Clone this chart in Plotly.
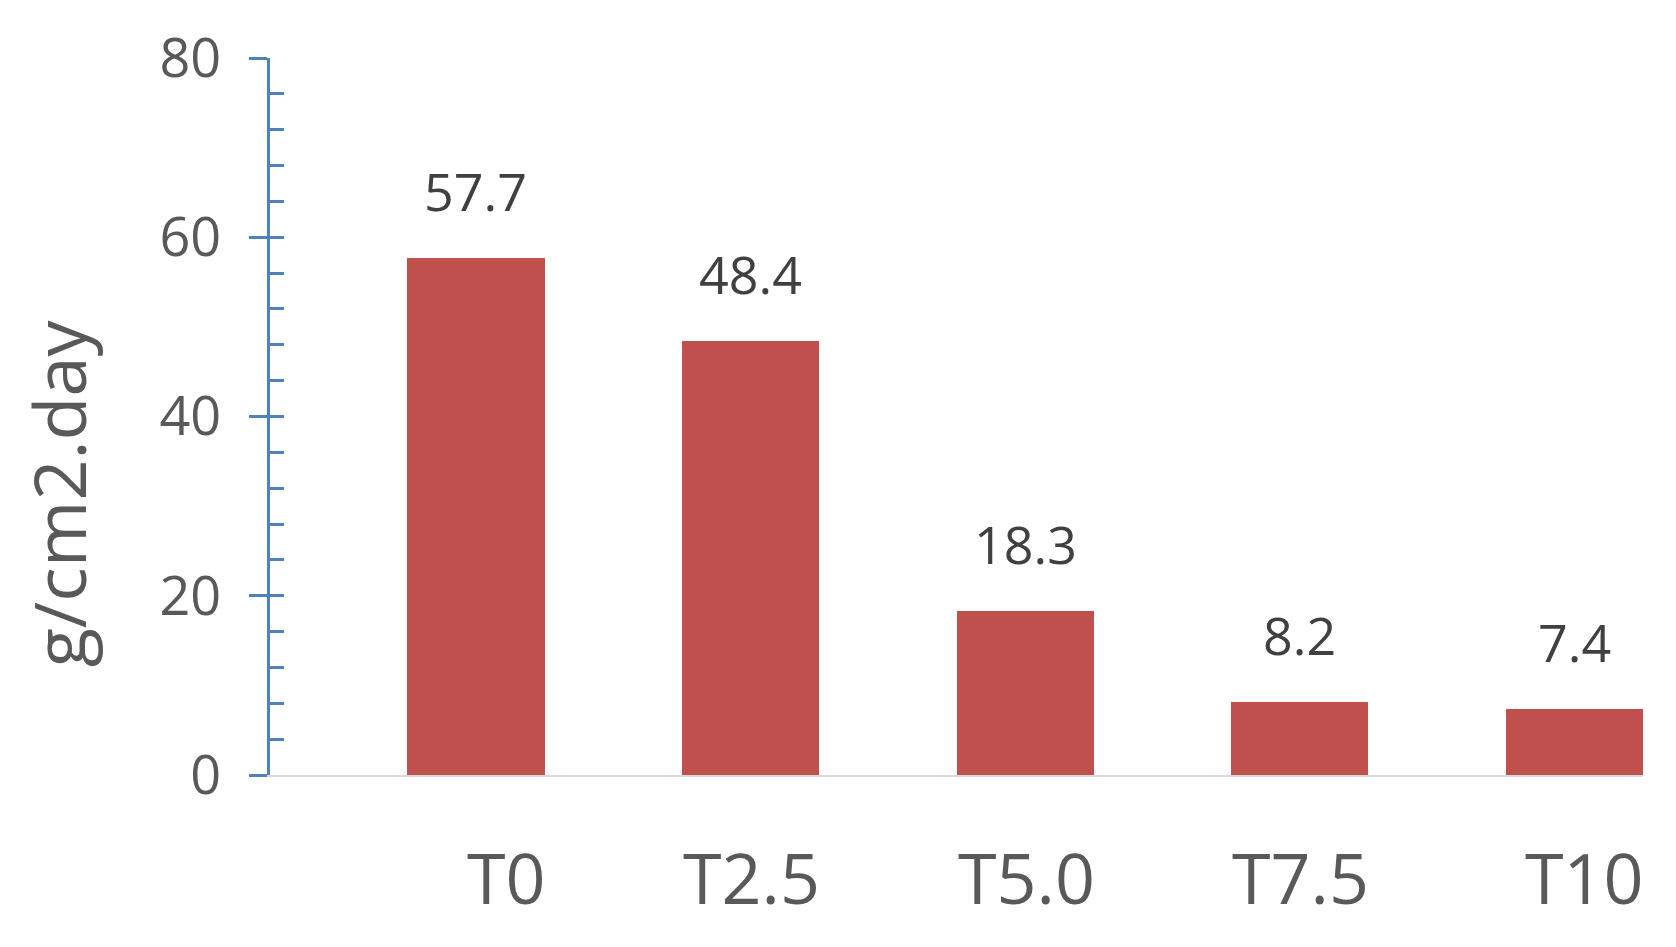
import plotly.graph_objects as go

categories = ["T0", "T2.5", "T5.0", "T7.5", "T10"]
values = [57.7, 48.4, 18.3, 8.2, 7.4]
value_labels = ["57.7", "48.4", "18.3", "8.2", "7.4"]
y_title = "g/cm2.day"

BAR = "#C0504D"
AXIS_BLUE = "#4F81BD"
TXT = "#595959"
FONT = "Open Sans"

fig = go.Figure()
fig.add_trace(go.Bar(
    x=categories, y=values, marker=dict(color=BAR, line=dict(width=0)),
    width=0.5, offset=0, showlegend=False, hoverinfo="skip",
))

annotations = []
for i, (c, v, lab) in enumerate(zip(categories, values, value_labels)):
    annotations.append(dict(x=i + 0.25, y=v, xref="x", yref="y", text=lab,
                            showarrow=False, yanchor="bottom", xanchor="center",
                            yshift=30, font=dict(family=FONT, size=52, color="#404040")))
    annotations.append(dict(x=i + 0.5, y=0, xref="x", yref="y", text=c,
                            showarrow=False, yanchor="top", xanchor="right",
                            yshift=-52, xshift=3, font=dict(family=FONT, size=70, color=TXT)))
annotations.append(dict(x=-0.1544, y=0.393, xref="paper", yref="paper", text=y_title,
                        textangle=-90, showarrow=False, xanchor="center", yanchor="middle",
                        font=dict(family=FONT, size=72, color=TXT)))

fig.update_layout(
    width=1660, height=931,
    margin=dict(l=262, r=25, t=50, b=164),
    plot_bgcolor="white", paper_bgcolor="white",
    bargap=0,
    annotations=annotations,
    xaxis=dict(type="category", range=[-0.5, 4.5], showticklabels=False,
               ticks="", showgrid=False, zeroline=False,
               showline=True, linecolor="#D9D9D9", linewidth=2),
    yaxis=dict(range=[0, 80], dtick=20, tick0=0, showgrid=False, zeroline=False,
               showline=True, linecolor=AXIS_BLUE, linewidth=3,
               ticks="outside", ticklen=18, tickwidth=2.5, tickcolor=AXIS_BLUE,
               ticklabelstandoff=17,
               tickfont=dict(family=FONT, size=54, color=TXT)),
    yaxis2=dict(range=[0, 80], dtick=4, tick0=0, overlaying="y", side="left",
                showgrid=False, zeroline=False, showline=False,
                showticklabels=False, ticks="inside", ticklen=14,
                tickwidth=2.5, tickcolor=AXIS_BLUE),
)
fig.add_trace(go.Scatter(x=[categories[0]], y=[None], yaxis="y2",
                         showlegend=False, hoverinfo="skip"))

fig.write_html("out.html")
